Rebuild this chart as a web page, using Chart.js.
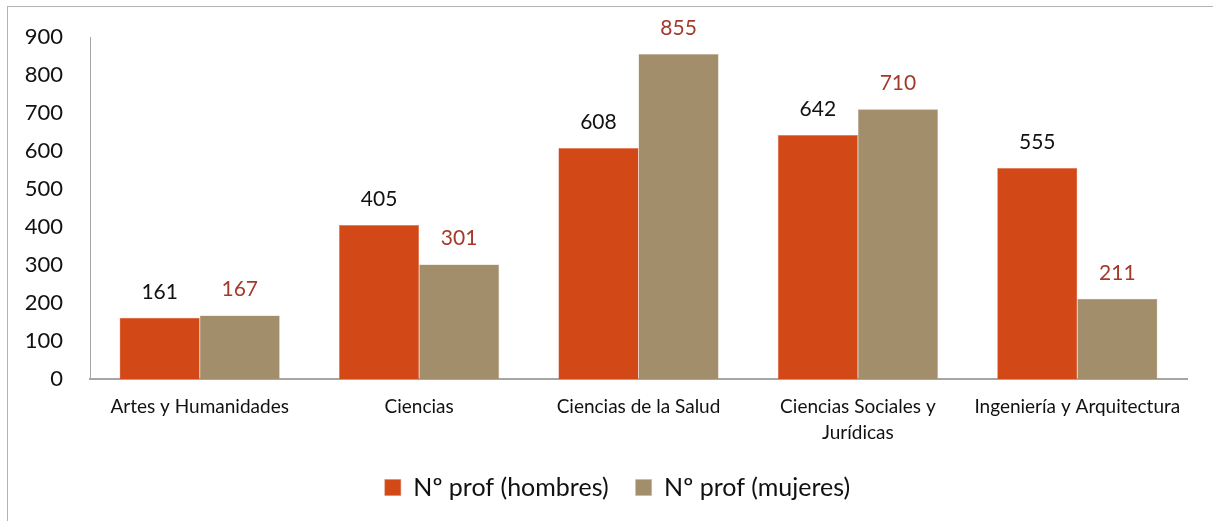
<!DOCTYPE html>
<html>
<head>
<meta charset="utf-8">
<script src="https://cdn.jsdelivr.net/npm/chart.js@4/dist/chart.umd.min.js"></script>
<style>
  html, body { margin: 0; padding: 0; background: #fff; overflow: hidden; }
  #frame {
    position: absolute; left: 7px; top: 6px; width: 1220px; height: 530px;
    border-left: 1px solid #b4b4b4; border-top: 1px solid #b4b4b4;
  }
  #wrap { position: absolute; left: 0; top: 0; width: 1206px; height: 515px; }
</style>
</head>
<body>
<div id="frame"><div id="wrap"><canvas id="chart"></canvas></div></div>
<script>
const categories = ['Artes y Humanidades', 'Ciencias', 'Ciencias de la Salud', ['Ciencias Sociales y', 'Jurídicas'], 'Ingeniería y Arquitectura'];
const hombres = [161, 405, 608, 642, 555];
const mujeres = [167, 301, 855, 710, 211];
const seriesNames = ['Nº prof (hombres)', 'Nº prof (mujeres)'];
const labelColors = ['#111111', '#A33A2A'];

const FONT = 'Lato, "Open Sans", sans-serif';

// draw the value above each bar
const barValues = {
  id: 'barValues',
  afterDatasetsDraw(chart) {
    const c = chart.ctx;
    c.save();
    c.font = '21px ' + FONT;
    c.textAlign = 'center';
    c.textBaseline = 'middle';
    chart.data.datasets.forEach(function (ds, i) {
      c.fillStyle = labelColors[i];
      chart.getDatasetMeta(i).data.forEach(function (bar, j) {
        c.fillText(ds.data[j], bar.x, bar.y - 26);
      });
    });
    c.restore();
  }
};

// legend in the original sits a bit right of the canvas centre
const legendShift = {
  id: 'legendShift',
  beforeDraw(chart) {
    chart.legend.left = 40;
  }
};

new Chart(document.getElementById('chart'), {
  type: 'bar',
  data: {
    labels: categories,
    datasets: [
      {
        label: seriesNames[0],
        data: hombres,
        backgroundColor: '#D34817',
        borderColor: '#E0785A',
        borderWidth: 0.5,
        categoryPercentage: 0.73,
        barPercentage: 1
      },
      {
        label: seriesNames[1],
        data: mujeres,
        backgroundColor: '#A28E6A',
        borderColor: '#C4B393',
        borderWidth: 0.5,
        categoryPercentage: 0.73,
        barPercentage: 1
      }
    ]
  },
  options: {
    responsive: true,
    maintainAspectRatio: false,
    animation: false,
    layout: { padding: { top: 30, right: 27, bottom: 12, left: 0 } },
    plugins: {
      tooltip: { enabled: false },
      legend: {
        position: 'bottom',
        labels: {
          font: { family: FONT, size: 25 },
          color: '#111',
          boxWidth: 16,
          boxHeight: 16,
          padding: 27
        }
      }
    },
    scales: {
      x: {
        grid: { display: false, drawTicks: false },
        border: { color: '#a6a6a6', width: 2 },
        ticks: {
          font: { family: FONT, size: 19, lineHeight: 1.35 },
          color: '#111',
          padding: 15,
          maxRotation: 0,
          autoSkip: false
        },
        afterFit: function (scale) { scale.height = 69; }
      },
      y: {
        min: 0,
        max: 900,
        grid: { display: false, drawTicks: false },
        border: { color: '#a6a6a6', width: 1 },
        ticks: {
          stepSize: 100,
          font: { family: FONT, size: 22 },
          color: '#111',
          padding: 27
        },
        afterFit: function (scale) {
          scale.width = 82;
          scale.paddingTop = 0;
          scale.paddingBottom = 0;
        }
      }
    }
  },
  plugins: [barValues, legendShift]
});
</script>
</body>
</html>
